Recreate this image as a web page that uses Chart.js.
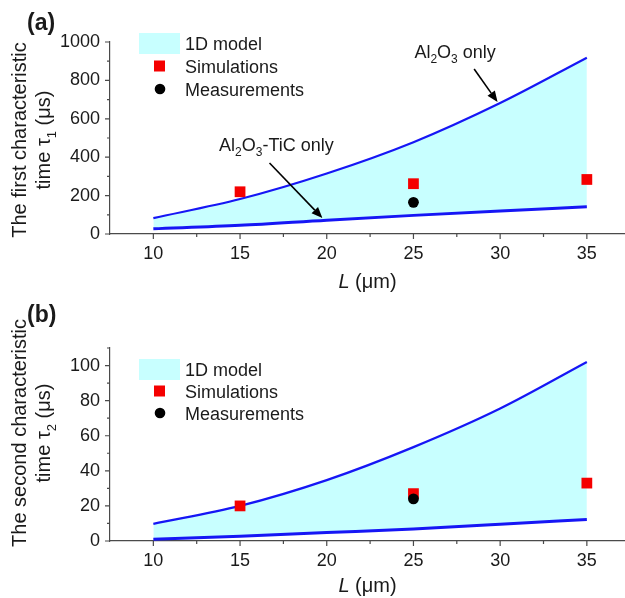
<!DOCTYPE html>
<html>
<head>
<meta charset="utf-8">
<script src="https://cdn.jsdelivr.net/npm/chart.js@4.4.1/dist/chart.umd.min.js"></script>
<style>
    body { margin: 0; background: #fff; overflow: hidden; }
    canvas { display: block; }
</style>
</head>
<body>
<canvas id="chartA" width="625" height="300"></canvas>
<canvas id="chartB" width="625" height="298"></canvas>
<script>
// values
const lengths = [10, 15, 20, 25, 30, 35];
const simLengths = [15, 25, 35];
const measLengths = [25];

const tau1Al2O3 = [83, 182, 315, 478, 682, 918];
const tau1AlTiC = [27, 45, 72, 97, 120, 142];
const tau1Sim = [220, 262, 284];
const tau1Meas = [165];

const tau2Al2O3 = [9.8, 20, 34.7, 53.5, 75.5, 102];
const tau2AlTiC = [1, 2.7, 4.8, 6.9, 9.5, 12.3];
const tau2Sim = [20, 27, 33];
const tau2Meas = [24];

const xTicks = [10, 15, 20, 25, 30, 35];
const xMinorTicks = [12.5, 17.5, 22.5, 27.5, 32.5];
const tau1Ticks = [0, 200, 400, 600, 800, 1000];
const tau1MinorTicks = [100, 300, 500, 700, 900];
const tau2Ticks = [0, 20, 40, 60, 80, 100];
const tau2MinorTicks = [10, 30, 50, 70, 90, 110];

const FONT = '"Liberation Sans", Arial, sans-serif';
const BLUE = 'rgb(22, 22, 245)';
const CYAN = 'rgb(200, 255, 255)';
const RED = 'rgb(245, 0, 0)';
const AXIS = '#4a4a4a';
const TEXT = '#1a1a1a';

Chart.defaults.font.family = FONT;
Chart.defaults.font.size = 18;
Chart.defaults.color = TEXT;

function pairs(xs, ys)
{
    return xs.map((x, i) => ({ x: x, y: ys[i] }));
}

function fontFor(p, size)
{
    const s = p.sub ? Math.round(size * 0.66) : size;
    return (p.it ? 'italic ' : '') + (p.b ? 'bold ' : '') + s + 'px ' + FONT;
}

// text with subscripts; y is the baseline
function drawRich(ctx, parts, x, y, size, align)
{
    let w = 0;
    parts.forEach(p => { ctx.font = fontFor(p, size); w += ctx.measureText(p.t).width; });
    let cx = align === 'center' ? x - w / 2 : x;
    ctx.textAlign = 'left';
    ctx.textBaseline = 'alphabetic';
    parts.forEach(p => {
        ctx.font = fontFor(p, size);
        ctx.fillText(p.t, cx, y + (p.sub ? size * 0.28 : 0));
        cx += ctx.measureText(p.t).width;
    });
}

function arrow(ctx, x1, y1, x2, y2)
{
    const ang = Math.atan2(y2 - y1, x2 - x1);
    const hl = 11, hw = 4.5;
    ctx.strokeStyle = '#000';
    ctx.fillStyle = '#000';
    ctx.lineWidth = 1.6;
    ctx.beginPath();
    ctx.moveTo(x1, y1);
    ctx.lineTo(x2 - hl * Math.cos(ang), y2 - hl * Math.sin(ang));
    ctx.stroke();
    ctx.beginPath();
    ctx.moveTo(x2, y2);
    ctx.lineTo(x2 - hl * Math.cos(ang) + hw * Math.sin(ang), y2 - hl * Math.sin(ang) - hw * Math.cos(ang));
    ctx.lineTo(x2 - hl * Math.cos(ang) - hw * Math.sin(ang), y2 - hl * Math.sin(ang) + hw * Math.cos(ang));
    ctx.closePath();
    ctx.fill();
}

/**
 * draws tick marks, titles, legend and notes for one panel
 */
function makeDecor(cfg)
{
    return {
        id: 'decor',
        afterDraw(chart) {
            const { ctx, chartArea: a } = chart;
            const x = chart.scales.x, y = chart.scales.y;
            ctx.save();

            // tick marks, outward
            ctx.strokeStyle = AXIS;
            ctx.lineWidth = 1.2;
            ctx.beginPath();
            xTicks.forEach(v => { const p = x.getPixelForValue(v); ctx.moveTo(p, a.bottom); ctx.lineTo(p, a.bottom + 5); });
            xMinorTicks.forEach(v => { const p = x.getPixelForValue(v); ctx.moveTo(p, a.bottom); ctx.lineTo(p, a.bottom + 3); });
            cfg.yTicks.forEach(v => { const p = y.getPixelForValue(v); ctx.moveTo(a.left, p); ctx.lineTo(a.left - 5, p); });
            cfg.yMinor.forEach(v => { const p = y.getPixelForValue(v); ctx.moveTo(a.left, p); ctx.lineTo(a.left - 3, p); });
            ctx.stroke();

            ctx.fillStyle = TEXT;

            // panel label
            ctx.font = 'bold 23px ' + FONT;
            ctx.textAlign = 'left';
            ctx.textBaseline = 'alphabetic';
            ctx.fillText(cfg.panel, 27, cfg.panelY);

            // x title
            drawRich(ctx, [{ t: 'L', it: true }, { t: ' (\u03bcm)' }], (a.left + a.right) / 2, cfg.xTitleY, 20, 'center');

            // y title, two rotated lines
            ctx.save();
            ctx.translate(26, cfg.yTitleY);
            ctx.rotate(-Math.PI / 2);
            drawRich(ctx, [{ t: cfg.yTitle1 }], 0, 0, 20, 'center');
            ctx.restore();
            ctx.save();
            ctx.translate(50, cfg.yTitleY);
            ctx.rotate(-Math.PI / 2);
            drawRich(ctx, [{ t: 'time \u03c4' }, { t: cfg.tauSub, sub: true }, { t: ' (\u03bcs)' }], 0, 0, 20, 'center');
            ctx.restore();

            // legend
            const lg = cfg.legend;
            const ds = chart.data.datasets;
            ctx.fillStyle = ds[0].backgroundColor;
            ctx.fillRect(lg.x, lg.rows[0] - 10, 41, 21);
            ctx.fillStyle = ds[2].backgroundColor;
            ctx.fillRect(lg.x + 15, lg.rows[1] - 5.5, 11, 11);
            ctx.fillStyle = ds[3].backgroundColor;
            ctx.beginPath();
            ctx.arc(lg.x + 21, lg.rows[2], 5.3, 0, Math.PI * 2);
            ctx.fill();
            ctx.fillStyle = TEXT;
            ctx.font = '18px ' + FONT;
            ctx.fillText(ds[0].label, lg.x + 46, lg.rows[0] + 6.5);
            ctx.fillText(ds[2].label, lg.x + 46, lg.rows[1] + 6.5);
            ctx.fillText(ds[3].label, lg.x + 46, lg.rows[2] + 6.5);

            // notes with arrows, placed in data units
            (cfg.notes || []).forEach(n => {
                ctx.fillStyle = TEXT;
                drawRich(ctx, n.parts, x.getPixelForValue(n.at[0]), y.getPixelForValue(n.at[1]) + 6.5, 18, 'center');
                arrow(ctx, x.getPixelForValue(n.from[0]), y.getPixelForValue(n.from[1]),
                    x.getPixelForValue(n.to[0]), y.getPixelForValue(n.to[1]));
            });

            ctx.restore();
        }
    };
}

function makeChart(id, cfg)
{
    const ctx = document.getElementById(id).getContext('2d');

    const chartData = {
        datasets: [
            {
                label: '1D model',
                data: pairs(lengths, cfg.upper),
                borderColor: BLUE,
                borderWidth: 2.2,
                backgroundColor: CYAN,
                fill: '+1',
                pointRadius: 0,
                cubicInterpolationMode: 'monotone',
                order: 3
            },
            {
                label: 'lower bound',
                data: pairs(lengths, cfg.lower),
                borderColor: BLUE,
                borderWidth: 3,
                fill: false,
                pointRadius: 0,
                cubicInterpolationMode: 'monotone',
                order: 2
            },
            {
                type: 'scatter',
                label: 'Simulations',
                data: pairs(simLengths, cfg.sim),
                pointStyle: 'rect',
                pointRadius: 7.6,
                backgroundColor: RED,
                borderWidth: 0,
                order: 1
            },
            {
                type: 'scatter',
                label: 'Measurements',
                data: pairs(measLengths, cfg.meas),
                pointStyle: 'circle',
                pointRadius: 5.4,
                backgroundColor: '#000',
                borderWidth: 0,
                order: 0
            }]
    };

    const config = {
        type: 'line',
        data: chartData,
        options: {
            responsive: false,
            animation: false,
            layout: {
                autoPadding: false,
                padding: { top: cfg.top, left: 0, right: 0, bottom: 0 }
            },
            plugins: {
                legend: { display: false },
                tooltip: { enabled: false }
            },
            scales: {
                x: {
                    type: 'linear',
                    min: 7.5,
                    max: 37.2,
                    grid: { display: false, drawTicks: false },
                    border: { display: true, color: AXIS, width: 1.2 },
                    ticks: { padding: 9, color: TEXT, font: { size: 18 }, callback: v => String(v) },
                    afterBuildTicks: s => { s.ticks = xTicks.map(v => ({ value: v })); },
                    afterFit: s => { s.height = cfg.xAxisH; s.paddingLeft = 0; s.paddingRight = 0; }
                },
                y: {
                    type: 'linear',
                    min: 0,
                    max: cfg.yMax,
                    grid: { display: false, drawTicks: false },
                    border: { display: true, color: AXIS, width: 1.2 },
                    ticks: { padding: 10, color: TEXT, font: { size: 18 }, callback: v => String(v) },
                    afterBuildTicks: s => { s.ticks = cfg.yTicks.map(v => ({ value: v })); },
                    afterFit: s => { s.width = 110; s.paddingTop = 0; s.paddingBottom = 0; }
                }
            }
        },
        plugins: [makeDecor(cfg)]
    };

    new Chart(ctx, config);
}

makeChart('chartA', {
    upper: tau1Al2O3, lower: tau1AlTiC, sim: tau1Sim, meas: tau1Meas,
    yMax: 1000, yTicks: tau1Ticks, yMinor: tau1MinorTicks,
    top: 42, xAxisH: 66,
    panel: '(a)', panelY: 30,
    xTitleY: 288, yTitleY: 140,
    yTitle1: 'The first characteristic', tauSub: '1',
    legend: { x: 139, rows: [43, 66, 89] },
    notes: [
        {
            parts: [{ t: 'Al' }, { t: '2', sub: true }, { t: 'O' }, { t: '3', sub: true }, { t: ' only' }],
            at: [27.4, 953], from: [28.5, 859], to: [29.85, 687]
        },
        {
            parts: [{ t: 'Al' }, { t: '2', sub: true }, { t: 'O' }, { t: '3', sub: true }, { t: '-TiC only' }],
            at: [17.1, 464], from: [16.7, 370], to: [19.75, 83]
        }
    ]
});

makeChart('chartB', {
    upper: tau2Al2O3, lower: tau2AlTiC, sim: tau2Sim, meas: tau2Meas,
    yMax: 110, yTicks: tau2Ticks, yMinor: tau2MinorTicks,
    top: 48, xAxisH: 57,
    panel: '(b)', panelY: 22,
    xTitleY: 292, yTitleY: 133,
    yTitle1: 'The second characteristic', tauSub: '2',
    legend: { x: 139, rows: [69, 91, 113] }
});
</script>
</body>
</html>
